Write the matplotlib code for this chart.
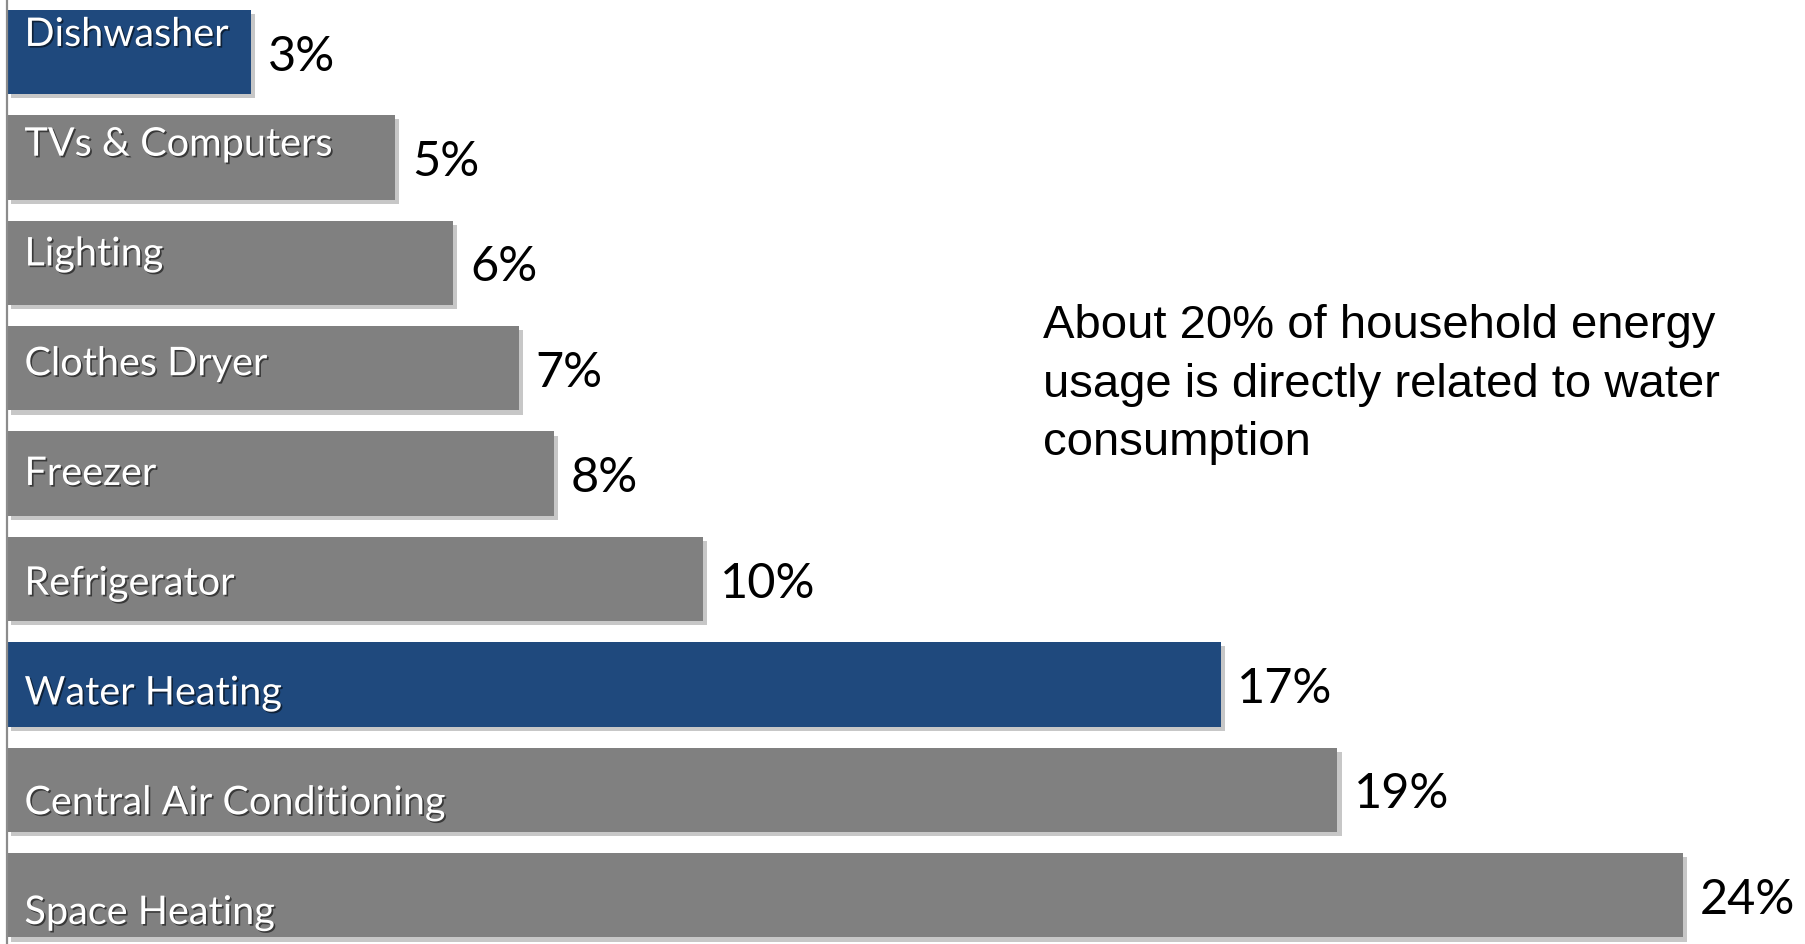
import matplotlib
matplotlib.use("Agg")
import matplotlib.pyplot as plt
import matplotlib.patheffects as pe

categories = ["Dishwasher", "TVs & Computers", "Lighting", "Clothes Dryer", "Freezer",
              "Refrigerator", "Water Heating", "Central Air Conditioning", "Space Heating"]
# bar lengths as drawn in the picture (share of household energy, %)
shares = [3.49, 5.56, 6.39, 7.33, 7.83, 9.97, 17.38, 19.05, 24.0]
share_labels = ["3%", "5%", "6%", "7%", "8%", "10%", "17%", "19%", "24%"]
water_related = [True, False, False, False, False, False, True, False, False]

note = "About 20% of household energy\nusage is directly related to water\nconsumption"

BLUE = "#1f497d"
GRAY = "#808080"


def draw_chart():
    fig = plt.figure(figsize=(18.06, 9.44), dpi=100)
    ax = fig.add_axes([7 / 1806, 0, 1 - 7 / 1806, 1])

    colors = [BLUE if w else GRAY for w in water_related]
    ypos = list(range(len(categories)))
    bars = ax.barh(ypos, shares, height=0.8, color=colors, zorder=2)
    for b in bars:
        b.set_path_effects([pe.SimplePatchShadow(offset=(3, -3), shadow_rgbFace="black", alpha=0.22),
                            pe.Normal()])

    txt_shadow = [pe.SimplePatchShadow(offset=(1.2, -1.2), shadow_rgbFace="black", alpha=0.55),
                  pe.Normal()]
    for i, (name, val, lab) in enumerate(zip(categories, shares, share_labels)):
        # the category labels sit on their own spacing, drifting down through the bars
        ax.text(0.25, i * 1.0413 - 0.057, name, color="white", fontsize=28.5,
                family="Lato", va="baseline", ha="left", zorder=3, path_effects=txt_shadow)
        ax.annotate(lab, xy=(val, i + 0.176), xytext=(12, 0), textcoords="offset points",
                    fontsize=35, family="Lato", va="baseline", ha="left", color="black")

    ax.set_xlim(0, 25.76)
    ax.set_ylim(8.463, -0.493)
    ax.set_xticks([])
    ax.set_yticks([])
    for s in ["top", "right", "bottom"]:
        ax.spines[s].set_visible(False)
    ax.spines["left"].set_color("#8c8c8c")
    ax.spines["left"].set_linewidth(1.6)

    fig.text(1043 / 1806, 1 - 455 / 944, note, fontsize=34, family="Liberation Sans",
             va="baseline", ha="left", linespacing=1.42, color="black")

    fig.savefig("out.png", dpi=100)


def main():
    draw_chart()


if __name__ == "__main__":
    main()
